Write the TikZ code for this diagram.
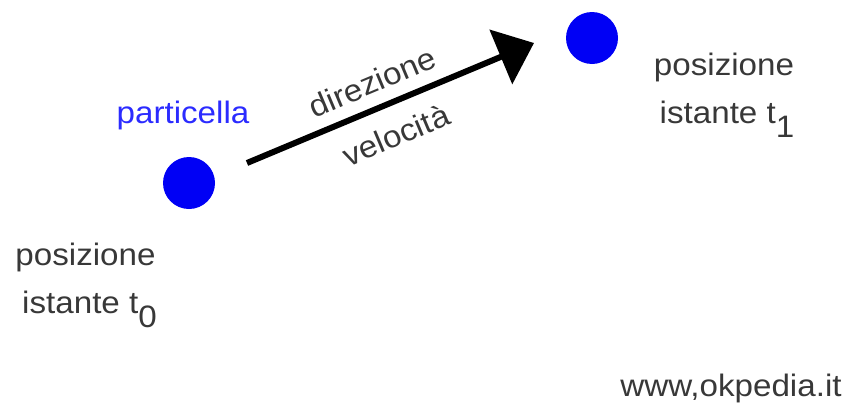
\documentclass[tikz,border=0pt]{standalone}
\usepackage{fontspec}
\setmainfont{Liberation Sans}[FakeStretch=1.07]
\usetikzlibrary{arrows.meta}
\definecolor{txt}{HTML}{383838}
\definecolor{dotblue}{HTML}{0000F5}
\definecolor{lblblue}{HTML}{2B2BFF}
\newcommand{\lowsub}[1]{\raisebox{-0.48em}{#1}}
\begin{document}
\begin{tikzpicture}[x=1pt,y=-1pt]
\tikzset{
  particle/.style={circle, fill=dotblue, minimum size=52pt, inner sep=0pt},
  caption/.style={text=txt, font=\fontsize{31}{37}\selectfont, inner sep=0pt, anchor=base},
  motion/.style={line width=6pt, -{Triangle[length=36pt,width=58pt]}},
}
\useasboundingbox (0,0) rectangle (851,407);

% the two positions of the particle
\node[particle] (p0) at (189,183) {};
\node[particle] (p1) at (592,38) {};

% velocity vector
\coordinate (v0) at (247,163);
\coordinate (v1) at (534,43);
\draw[motion] (v0) -- (v1);
\node[caption, anchor=center, rotate=22.8] (dir) at (372,82) {direzione};
\node[caption, anchor=center, rotate=22.8] (vel) at (396,135) {velocità};

% labels
\node[caption, text=lblblue] (name) at (183,123) {particella};
\node[caption] (pos0) at (85.5,265) {posizione};
\node[caption] (ist0) at (89.5,313) {istante t\lowsub{0}};
\node[caption] (pos1) at (724,75) {posizione};
\node[caption] (ist1) at (727,123) {istante t\lowsub{1}};
\node[caption] (site) at (731,396) {www,okpedia.it};
\end{tikzpicture}
\end{document}
